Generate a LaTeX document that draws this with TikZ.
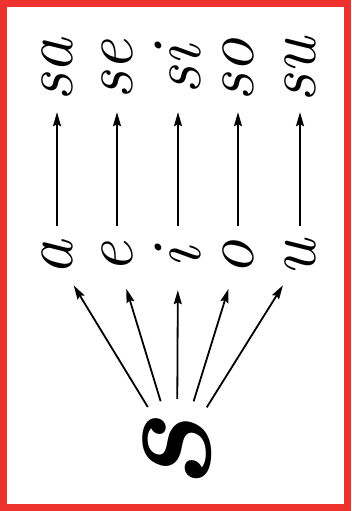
\documentclass[tikz,border=0pt]{standalone}
\usepackage{graphicx}
\usetikzlibrary{arrows.meta}
\definecolor{framered}{RGB}{238,50,45}
\begin{document}
\begin{tikzpicture}[x=1pt,y=-1pt,
  lbltext/.style={inner sep=0pt, font=\fontsize{70}{70}\selectfont\itshape},
  toplbl/.style={lbltext, minimum height=84pt},
  midlbl/.style={lbltext, circle, minimum size=64pt},
  baselbl/.style={circle, inner sep=0pt, minimum size=112pt, font=\fontsize{150}{150}\selectfont\bfseries\itshape},
  arr/.style={line width=1.8pt, -{Stealth[length=14pt,width=8pt,inset=2pt]}}]
\useasboundingbox (0,0) rectangle (351,511);
\draw[framered, line width=7pt] (3.5,3.5) rectangle (347,507);
\node[toplbl] (t1) at (57,70) {\rotatebox{90}{sa}};
\node[toplbl] (t2) at (117,70) {\rotatebox{90}{se}};
\node[toplbl] (t3) at (178,70) {\rotatebox{90}{si}};
\node[toplbl] (t4) at (238,70) {\rotatebox{90}{so}};
\node[toplbl] (t5) at (300,70) {\rotatebox{90}{su}};
\node[midlbl] (m1) at (57,258) {\rotatebox{90}{a}};
\node[midlbl] (m2) at (117,258) {\rotatebox{90}{e}};
\node[midlbl] (m3) at (178,258) {\rotatebox{90}{i}};
\node[midlbl] (m4) at (238,258) {\rotatebox{90}{o}};
\node[midlbl] (m5) at (300,258) {\rotatebox{90}{u}};
\node[baselbl] (s) at (177,455) {\rotatebox{90}{s}};
\foreach \i in {1,...,5}{
  \draw[arr] (m\i) -- (t\i);
  \draw[arr] (s) -- (m\i);
}
\end{tikzpicture}
\end{document}
